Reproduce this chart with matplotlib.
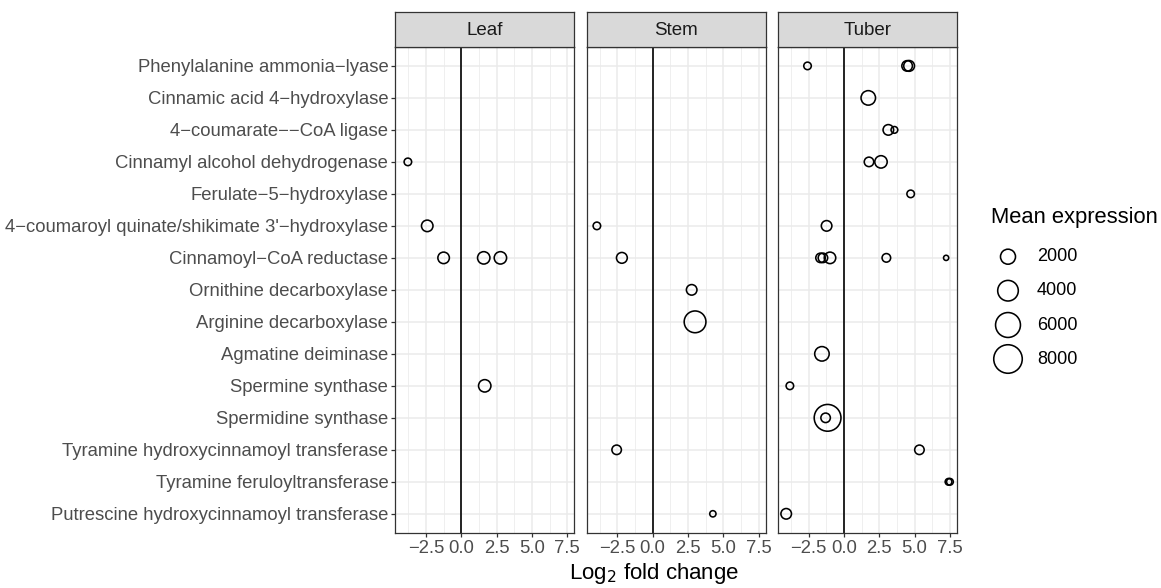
import numpy as np
import matplotlib
matplotlib.use("Agg")
import matplotlib.pyplot as plt

plt.rcParams['font.family'] = ['Liberation Sans', 'DejaVu Sans']

genes = [
    "Phenylalanine ammonia\u2212lyase",
    "Cinnamic acid 4\u2212hydroxylase",
    "4\u2212coumarate\u2212\u2212CoA ligase",
    "Cinnamyl alcohol dehydrogenase",
    "Ferulate\u22125\u2212hydroxylase",
    "4\u2212coumaroyl quinate/shikimate 3'\u2212hydroxylase",
    "Cinnamoyl\u2212CoA reductase",
    "Ornithine decarboxylase",
    "Arginine decarboxylase",
    "Agmatine deiminase",
    "Spermine synthase",
    "Spermidine synthase",
    "Tyramine hydroxycinnamoyl transferase",
    "Tyramine feruloyltransferase",
    "Putrescine hydroxycinnamoyl transferase",
]
tissues = ["Leaf", "Stem", "Tuber"]

# (gene index, log2 fold change, mean expression) per tissue
leaf_gene = [3, 5, 6, 6, 6, 10]
leaf_lfc = [-3.78, -2.41, -1.25, 1.59, 2.77, 1.66]
leaf_expr = [400, 1100, 1100, 1300, 1300, 1300]

stem_gene = [5, 6, 7, 8, 12, 14]
stem_lfc = [-3.95, -2.18, 2.76, 3.00, -2.55, 4.26]
stem_expr = [400, 950, 900, 4500, 700, 250]

tuber_gene = [0, 0, 0, 1, 2, 2, 3, 3, 4, 5, 6, 6, 6, 6, 6, 9, 10, 11, 11, 12, 13, 13, 14]
tuber_lfc = [-2.58, 4.47, 4.61, 1.72, 3.14, 3.57, 1.77, 2.62, 4.72, -1.23,
             -1.66, -1.49, -0.99, 3.00, 7.23, -1.56, -3.83, -1.16, -1.30, 5.34,
             7.40, 7.50, -4.09]
tuber_expr = [400, 900, 950, 1850, 900, 300, 700, 1300, 400, 900,
              700, 700, 1100, 550, 150, 1850, 400, 7000, 700, 700,
              300, 300, 900]

panels = {
    "Leaf": (leaf_gene, leaf_lfc, leaf_expr),
    "Stem": (stem_gene, stem_lfc, stem_expr),
    "Tuber": (tuber_gene, tuber_lfc, tuber_expr),
}

legend_vals = [2000, 4000, 6000, 8000]
xticks = [-2.5, 0.0, 2.5, 5.0, 7.5]

W, H = 1161, 588
DPI = 100


def marker_area(v):
    # circle diameter in pixels grows with sqrt of the expression
    d_px = 1.5 + 0.302 * np.sqrt(np.asarray(v, dtype=float))
    return (d_px * 72.0 / DPI) ** 2


fig = plt.figure(figsize=(W / DPI, H / DPI), dpi=DPI)

dark = "#333333"
grid = "#EBEBEB"
lefts = [395.3, 586.7, 778.0]
pw = 179.0
ptop, pbot = 46.7, 533.0
strip_top = 12.0

for i, name in enumerate(tissues):
    g, x, v = panels[name]
    ax = fig.add_axes([lefts[i] / W, 1 - pbot / H, pw / W, (pbot - ptop) / H])
    ax.set_xlim(-4.67, 8.0)
    ax.set_ylim(15 - 1 + 0.6, -0.6)
    ax.set_xticks(xticks)
    ax.set_xticks([-3.75, -1.25, 1.25, 3.75, 6.25], minor=True)
    ax.set_xticklabels(["\u22122.5", "0.0", "2.5", "5.0", "7.5"])
    ax.set_yticks(range(len(genes)))
    ax.grid(True, which="major", color=grid, lw=1.1)
    ax.grid(True, which="minor", axis="x", color=grid, lw=0.55)
    ax.set_axisbelow(True)
    ax.tick_params(axis="x", which="minor", length=0)
    ax.tick_params(axis="both", which="major", length=3, width=0.9, color=dark,
                   labelsize=13.3, labelcolor="#4D4D4D", pad=2)
    if i == 0:
        ax.set_yticklabels(genes)
    else:
        ax.tick_params(axis="y", length=0, labelleft=False)
    for s in ax.spines.values():
        s.set_color(dark)
        s.set_linewidth(0.9)
    ax.axvline(0, color="black", lw=1.2, zorder=2)
    ax.scatter(x, g, s=marker_area(v), facecolors="none", edgecolors="black",
               linewidths=1.15, zorder=3)

    # facet strip
    sax = fig.add_axes([lefts[i] / W, 1 - ptop / H, pw / W, (ptop - strip_top) / H])
    sax.set_xticks([])
    sax.set_yticks([])
    sax.set_facecolor("#D9D9D9")
    for s in sax.spines.values():
        s.set_color(dark)
        s.set_linewidth(0.9)
    sax.text(0.5, 0.47, name, ha="center", va="center", fontsize=13.5,
             color="#1A1A1A", transform=sax.transAxes)

fig.text(654 / W, 1 - 574 / H, "Log$_2$ fold change", ha="center", va="center",
         fontsize=16)

# size legend
lax = fig.add_axes([0, 0, 1, 1], facecolor="none")
lax.set_xlim(0, W)
lax.set_ylim(H, 0)
lax.axis("off")
lax.text(991, 217, "Mean expression", ha="left", va="center", fontsize=15.8)
ly = [256.7, 290.7, 325.0, 359.0]
lax.scatter([1008] * len(legend_vals), ly, s=marker_area(legend_vals),
            facecolors="none", edgecolors="black", linewidths=1.15)
for yy, val in zip(ly, legend_vals):
    lax.text(1037, yy, str(val), ha="left", va="center", fontsize=13)

fig.savefig("out.png", dpi=DPI)
